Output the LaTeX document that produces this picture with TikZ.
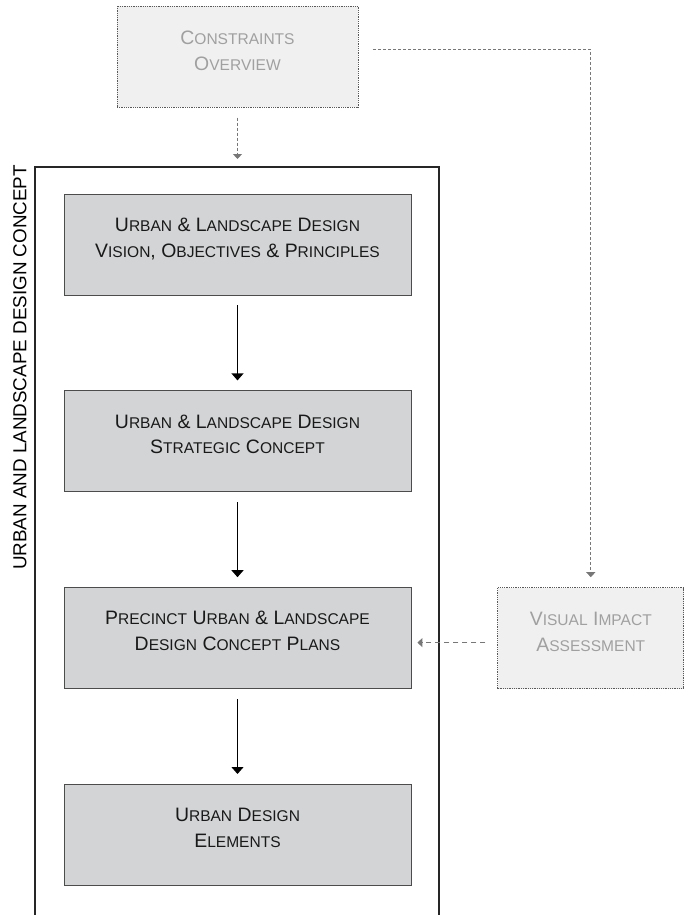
\documentclass[tikz,border=0pt]{standalone}
\usepackage{fontspec}
\setmainfont{Liberation Sans}
\usetikzlibrary{positioning,arrows.meta}
\definecolor{boxgray}{HTML}{D3D4D6}
\definecolor{lightfill}{HTML}{F0F0F0}
\definecolor{lighttext}{HTML}{A0A0A0}
\definecolor{hintgray}{HTML}{777777}
\newcommand\sw[2]{#1{\fontsize{15.6}{26}\selectfont #2}}

\begin{document}
\begin{tikzpicture}[x=1bp, y=-1bp, node distance=95bp, thick,
  main/.style={draw=black!70, fill=boxgray, minimum width=347bp, minimum height=101bp, inner sep=0pt, align=center, font=\fontsize{19.5}{26}\selectfont, text=black!90, text depth=14bp},
  light/.style={draw=black!65, densely dotted, fill=lightfill, minimum height=101bp, inner sep=0pt, align=center, font=\fontsize{19.5}{26}\selectfont, text=lighttext, text depth=12bp},
  flow/.style={-{Triangle[width=12bp,length=7bp]}, line width=1.2bp, shorten <=10bp, shorten >=10bp},
  hint/.style={-{Triangle[width=9bp,length=5bp]}, hintgray, line width=0.9bp}]
    \useasboundingbox (0,0) rectangle (692,915);

    % the four stages of the concept
    \node[main] (1) at (237.5,244.5) {\sw{U}{RBAN} \& \sw{L}{ANDSCAPE} \sw{D}{ESIGN}\\ \sw{V}{ISION}, \sw{O}{BJECTIVES} \& \sw{P}{RINCIPLES}};
    \node[main] (2) [below=of 1] {\sw{U}{RBAN} \& \sw{L}{ANDSCAPE} \sw{D}{ESIGN}\\ \sw{S}{TRATEGIC} \sw{C}{ONCEPT}};
    \node[main] (3) [below=of 2] {\sw{P}{RECINCT} \sw{U}{RBAN} \& \sw{L}{ANDSCAPE}\\ \sw{D}{ESIGN} \sw{C}{ONCEPT} \sw{P}{LANS}};
    \node[main] (4) [below=of 3] {\sw{U}{RBAN} \sw{D}{ESIGN}\\ \sw{E}{LEMENTS}};
    \node[light, minimum width=241bp] (0) [above=86bp of 1] {\sw{C}{ONSTRAINTS}\\ \sw{O}{VERVIEW}};
    \node[light, minimum width=186bp] (5) [right=86bp of 3] {\sw{V}{ISUAL} \sw{I}{MPACT}\\ \sw{A}{SSESSMENT}};

    % open frame round the stages
    \draw[line width=1.8bp, black!85] (35,915) |- (439,167) -- (439,915);
    \coordinate (top) at (237.5,167);
    \node[rotate=90, font=\fontsize{18.9}{20}\selectfont] (title) at (20,367.5) {URBAN AND LANDSCAPE DESIGN CONCEPT};

    \draw[flow] (1) -- (2);
    \draw[flow] (2) -- (3);
    \draw[flow] (3) -- (4);
    \draw[hint, dash pattern=on 3bp off 2bp, shorten <=10bp, shorten >=8bp] (0) -- (top);
    \draw[hint, dash pattern=on 3bp off 2bp, shorten >=10bp] ([shift={(15bp,7.5bp)}]0.east) -| (5);
    \draw[hint, dash pattern=on 5bp off 4bp, shorten <=12bp, shorten >=6bp] ([yshift=-4.5bp]5.west) -- ([yshift=-4.5bp]3.east);

\end{tikzpicture}
\end{document}
